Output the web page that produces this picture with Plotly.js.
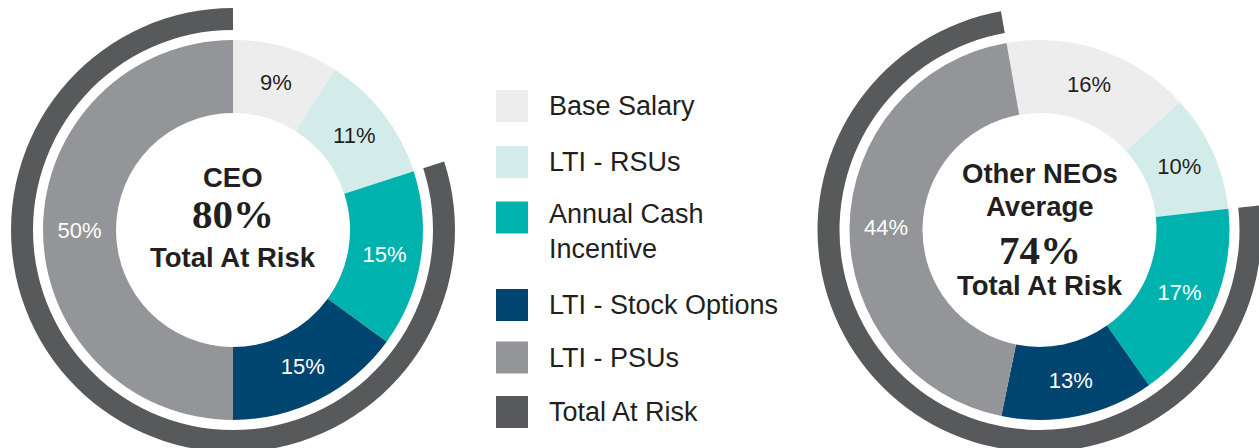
<!DOCTYPE html>
<html>
<head>
<meta charset="utf-8">
<script src="https://cdn.plot.ly/plotly-3.0.1.min.js"></script>
<style>
  html, body { margin: 0; padding: 0; overflow: hidden; background: #fff; }
  #chart { width: 1270px; height: 460px; }
</style>
</head>
<body>
<div id="chart"></div>
<script>
// ---- data ----
const categories = ['Base Salary', 'LTI - RSUs', 'Annual Cash Incentive', 'LTI - Stock Options', 'LTI - PSUs'];
const ceoValues = [9, 11, 15, 15, 50];
const neoValues = [16, 10, 17, 13, 44];
const ringLabels = ['Not At Risk', 'Total At Risk'];
const ceoAtRisk = 80;
const neoAtRisk = 74;
const legendLabels = ['Base Salary', 'LTI - RSUs', 'Annual Cash<br>Incentive', 'LTI - Stock Options', 'LTI - PSUs', 'Total At Risk'];

// ---- styles ----
const sliceColors = ['#ededed', '#d3ecea', '#00b2ae', '#004570', '#939598'];
const sliceText = ['#231f20', '#231f20', '#ffffff', '#ffffff', '#ffffff'];
const ringColor = '#58595b';
const legendColors = sliceColors.concat([ringColor]);
const SANS = 'Liberation Sans, Arial, Helvetica, sans-serif';
const SERIF = 'Liberation Serif, Times New Roman, serif';

const W = 1270, H = 460;
const px = x => x / W;
const py = y => (H - y) / H;
function dom(cx, cy, r) {
  return { x: [px(cx - r), px(cx + r)], y: [py(cy + r), py(cy - r)] };
}

const left = { cx: 233, cy: 230 };
const right = { cx: 1039.5, cy: 230 };
const R = 190, HOLE = 117, RING_IN = 200, RING_OUT = 222;

function donut(values, c, rot, name) {
  return {
    type: 'pie', name: name, labels: categories, values: values,
    sort: false, direction: 'clockwise', rotation: rot,
    hole: HOLE / R, domain: dom(c.cx, c.cy, R),
    marker: { colors: sliceColors, line: { width: 0 } },
    texttemplate: '%{value}%', textposition: 'inside',
    insidetextorientation: 'horizontal',
    insidetextfont: { family: SANS, size: 22, color: sliceText },
    showlegend: false, hoverinfo: 'label+value'
  };
}
function ring(atRisk, c, rot, name) {
  return {
    type: 'pie', name: name, labels: ringLabels, values: [100 - atRisk, atRisk],
    sort: false, direction: 'clockwise', rotation: rot,
    hole: RING_IN / RING_OUT, domain: dom(c.cx, c.cy, RING_OUT),
    marker: { colors: ['rgba(0,0,0,0)', ringColor], line: { width: 0 } },
    textinfo: 'none', showlegend: false, hoverinfo: 'skip'
  };
}

const data = [
  ring(ceoAtRisk, left, 0, 'CEO ring'),
  donut(ceoValues, left, 0, 'CEO'),
  ring(neoAtRisk, right, -10, 'NEO ring'),
  donut(neoValues, right, -10, 'Other NEOs')
];

const annotations = [];
function center(text, x, y, font) {
  annotations.push({ text: text, x: px(x), y: py(y), xref: 'paper', yref: 'paper',
    xanchor: 'center', yanchor: 'middle', showarrow: false, font: font });
}
const boldFont = { family: SANS, size: 27.5, color: '#231f20', weight: 'bold' };
const bigFont = { family: SERIF, size: 41, color: '#231f20', weight: 'bold' };
center('<b>CEO</b>', left.cx, 177, boldFont);
center('<b>' + ceoAtRisk + '%</b>', left.cx, 214, bigFont);
center('<b>Total At Risk</b>', left.cx, 257, boldFont);
center('<b>Other NEOs</b>', right.cx, 173, boldFont);
center('<b>Average</b>', right.cx, 207, boldFont);
center('<b>' + neoAtRisk + '%</b>', right.cx, 250, bigFont);
center('<b>Total At Risk</b>', right.cx, 285, boldFont);

// legend
const legendY = [106, 162, 217.5, 305, 357.5, 412];
const legendTextY = [106, 162, 231.5, 305, 357.5, 412];
const shapes = [];
legendLabels.forEach((lab, i) => {
  shapes.push({ type: 'rect', xref: 'paper', yref: 'paper',
    x0: px(496), x1: px(528), y0: py(legendY[i] + 16), y1: py(legendY[i] - 16),
    fillcolor: legendColors[i], line: { width: 0 } });
  annotations.push({ text: lab, x: px(547), y: py(legendTextY[i]), xref: 'paper', yref: 'paper',
    xanchor: 'left', yanchor: 'middle', align: 'left', showarrow: false,
    font: { family: SANS, size: 27, color: '#231f20' } });
});

const layout = {
  width: W, height: H,
  margin: { l: 0, r: 0, t: 0, b: 0, pad: 0 },
  paper_bgcolor: '#ffffff', plot_bgcolor: '#ffffff',
  showlegend: false,
  uniformtext: { mode: 'show', minsize: 22 },
  annotations: annotations, shapes: shapes
};

Plotly.newPlot('chart', data, layout, { displayModeBar: false, staticPlot: true });
</script>
</body>
</html>
